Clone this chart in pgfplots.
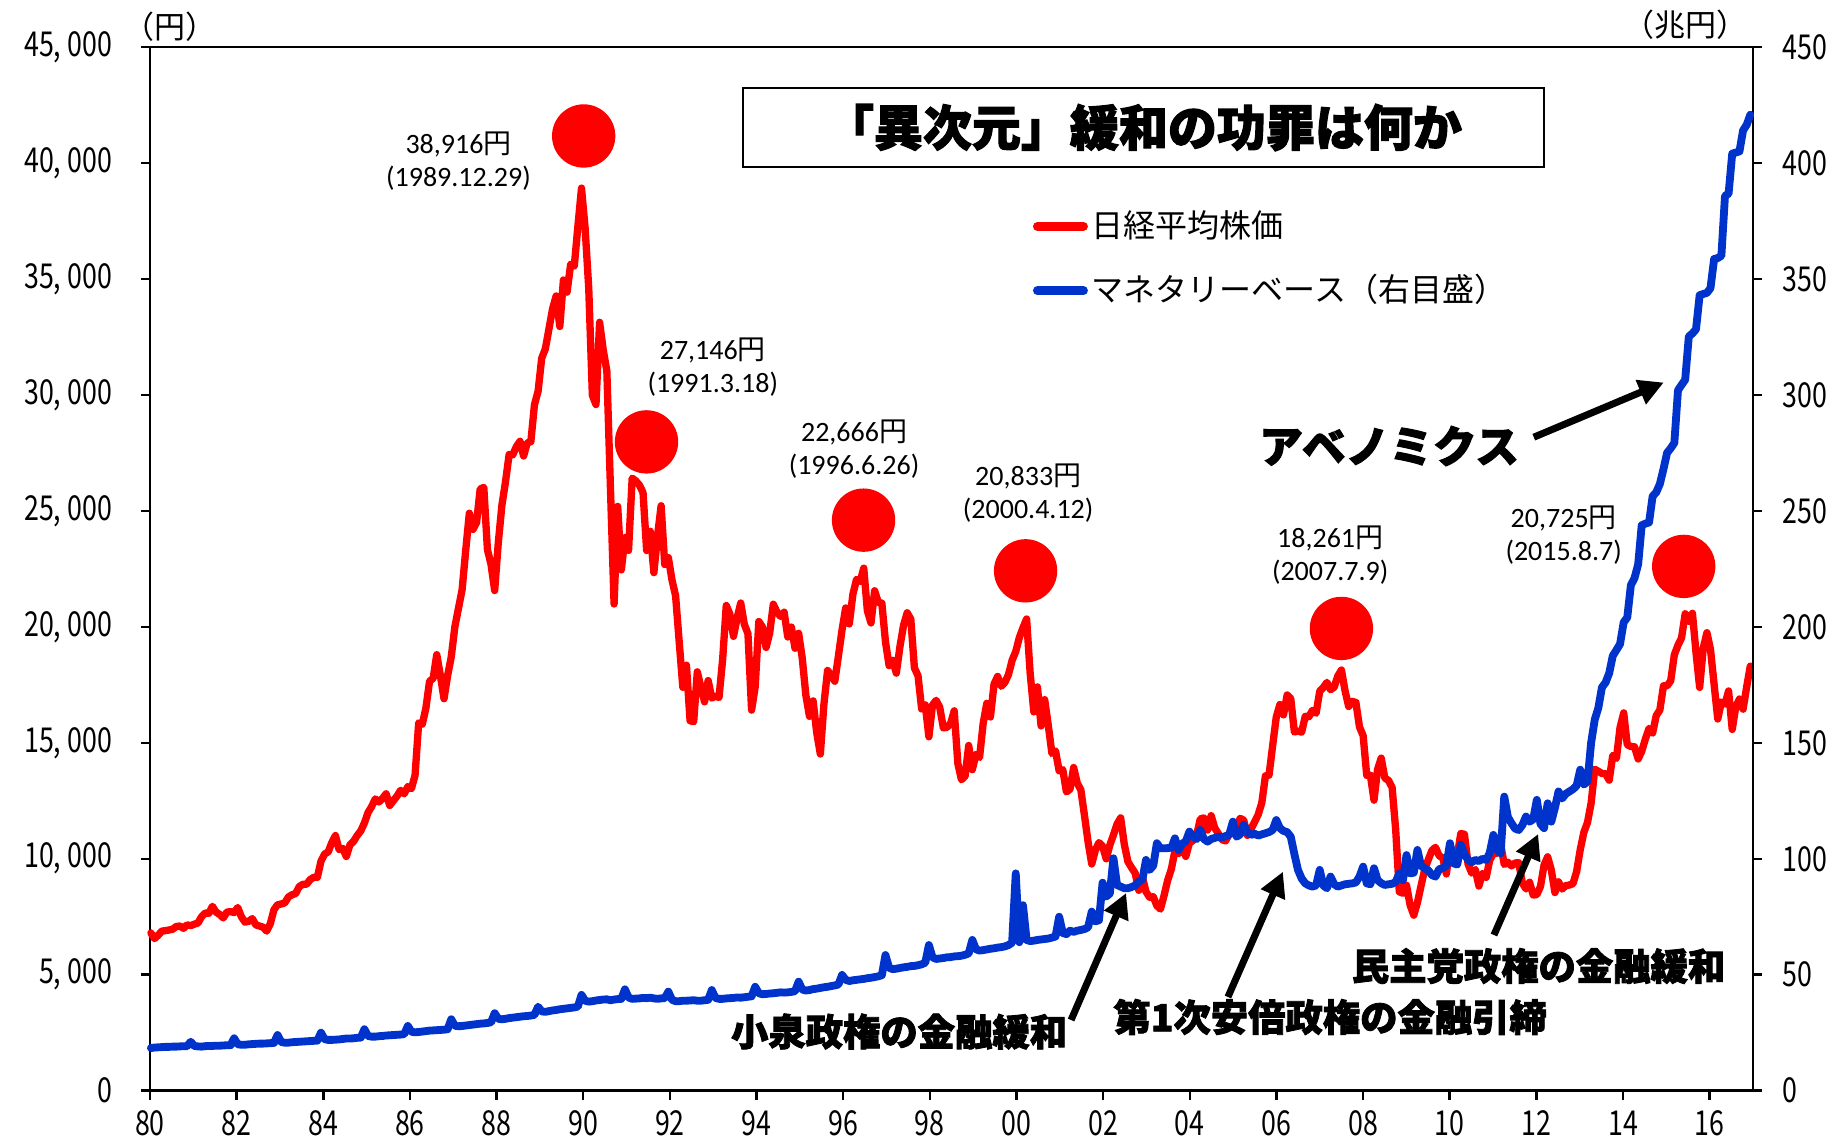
\documentclass[border=0pt]{standalone}
\usepackage{pgfplots}
\pgfplotsset{compat=1.18}
\usepackage{pgfplotstable}
\usetikzlibrary{arrows.meta}
\usepackage{fontspec}
\setmainfont{Carlito}
\newfontfamily\cjk{Noto Sans CJK JP}[BoldFeatures={FakeBold=2.2}]
\newfontfamily\tickfont{Noto Sans CJK JP}[FakeStretch=0.78]
\newfontfamily\calib{Carlito}
\definecolor{nred}{RGB}{255,0,0}
\definecolor{mblue}{RGB}{0,51,204}

% Nikkei 225, month-end, Jan 1980 - Nov 2016 (yen)
\pgfplotstableread[row sep=\\]{
v\\
6800\\6560\\6700\\6880\\6900\\6930\\6960\\7080\\7100\\7000\\7150\\7116\\
7180\\7230\\7500\\7660\\7650\\7950\\7700\\7600\\7450\\7700\\7720\\7682\\
7900\\7500\\7270\\7300\\7420\\7150\\7100\\7050\\6880\\7200\\7800\\8017\\
8050\\8100\\8350\\8450\\8500\\8800\\8900\\8900\\9100\\9200\\9200\\9894\\
10200\\10300\\10700\\11000\\10400\\10450\\10100\\10600\\10750\\11000\\11200\\11543\\
11990\\12250\\12580\\12450\\12600\\12800\\12300\\12500\\12700\\12950\\12800\\13113\\
13024\\13600\\15860\\15800\\16500\\17650\\17780\\18800\\17900\\16900\\17900\\18701\\
20000\\20800\\21600\\23300\\24900\\24200\\24500\\25943\\26010\\23329\\22687\\21564\\
23622\\25242\\26260\\27434\\27417\\27769\\28000\\27366\\27924\\27986\\29579\\30159\\
31581\\31986\\32839\\33713\\34267\\32949\\34954\\34431\\35637\\35549\\37269\\38916\\
37189\\34592\\29980\\29585\\33131\\31940\\31036\\25978\\20984\\25194\\22455\\23849\\
23293\\26409\\26292\\26111\\25790\\23291\\24121\\22336\\23916\\25222\\22688\\22984\\
22023\\21339\\19346\\17391\\18348\\15952\\15910\\18061\\17399\\16767\\17684\\16925\\
17024\\16953\\18591\\20919\\20552\\19590\\20380\\21027\\20106\\19703\\16408\\17417\\
20229\\19997\\19112\\19725\\20974\\20643\\20449\\20629\\19564\\19990\\19076\\19723\\
18650\\17053\\16140\\16807\\15437\\14517\\16678\\18117\\17913\\17655\\18744\\19868\\
20813\\20125\\21407\\22041\\21956\\22531\\20693\\20167\\21556\\21062\\21020\\19361\\
18330\\18557\\18003\\19151\\20069\\20605\\20331\\18229\\17888\\16459\\16636\\15259\\
16628\\16832\\16527\\15641\\15671\\15830\\16379\\14108\\13406\\13564\\14884\\13842\\
14499\\14368\\15837\\16702\\16112\\17530\\17862\\17437\\17605\\17942\\18558\\18934\\
19540\\19960\\20337\\17974\\16332\\17411\\15727\\16861\\15747\\14540\\14649\\13786\\
13844\\12884\\12999\\13934\\13262\\12969\\11861\\10714\\9775\\10367\\10697\\10543\\
9998\\10588\\11025\\11493\\11764\\10622\\9878\\9619\\9383\\8640\\9216\\8579\\
8340\\8363\\7973\\7831\\8425\\9083\\9563\\10344\\10219\\10560\\10101\\10677\\
10784\\11042\\11715\\11762\\11237\\11859\\11326\\11082\\10824\\10771\\11069\\11489\\
11388\\11741\\11668\\11009\\11277\\11584\\11900\\12414\\13574\\13607\\14872\\16111\\
16650\\16205\\17060\\16907\\15467\\15506\\15457\\16141\\16128\\16399\\16274\\17226\\
17383\\17604\\17288\\17400\\17876\\18138\\17249\\16569\\16786\\16738\\15681\\15308\\
13592\\13603\\12526\\13850\\14339\\13481\\13377\\13073\\11260\\8577\\8512\\8860\\
7994\\7568\\8110\\8828\\9523\\9958\\10357\\10493\\10133\\10035\\9346\\10546\\
10198\\10126\\11090\\11057\\9769\\9383\\9537\\8824\\9369\\9202\\9937\\10229\\
10238\\10624\\9755\\9850\\9694\\9816\\9833\\8955\\8700\\8988\\8435\\8455\\
8803\\9723\\10084\\9521\\8543\\9007\\8695\\8840\\8870\\8928\\9446\\10395\\
11139\\11559\\12398\\13861\\13775\\13677\\13668\\13389\\14456\\14328\\15662\\16291\\
14915\\14841\\14828\\14304\\14632\\15162\\15621\\15425\\16174\\16414\\17460\\17451\\
17674\\18798\\19207\\19520\\20563\\20236\\20585\\18890\\17388\\19083\\19747\\19034\\
17518\\16027\\16759\\16666\\17235\\15576\\16569\\16887\\16450\\17425\\18308\\
}\nikkei

% Monetary base, monthly, Jan 1980 - Nov 2016 (trillion yen)
\pgfplotstableread[row sep=\\]{
v\\
18.4\\18.6\\18.7\\18.8\\18.9\\18.9\\19.0\\19.0\\19.1\\19.2\\19.2\\21.1\\
19.3\\19.1\\19.0\\19.2\\19.3\\19.3\\19.4\\19.4\\19.5\\19.6\\19.6\\22.6\\
20.0\\19.8\\19.8\\20.0\\20.1\\20.2\\20.3\\20.3\\20.4\\20.5\\20.6\\24.0\\
21.0\\20.7\\20.7\\20.9\\21.0\\21.1\\21.2\\21.3\\21.4\\21.5\\21.6\\25.0\\
22.2\\21.9\\21.9\\22.0\\22.1\\22.3\\22.5\\22.5\\22.6\\22.8\\22.9\\26.5\\
23.6\\23.3\\23.3\\23.5\\23.6\\23.8\\23.9\\24.0\\24.1\\24.2\\24.4\\27.9\\
25.4\\25.2\\25.3\\25.5\\25.7\\25.9\\26.0\\26.1\\26.2\\26.3\\26.5\\30.8\\
28.0\\27.8\\27.9\\28.1\\28.3\\28.5\\28.7\\28.9\\29.0\\29.2\\29.5\\33.4\\
31.0\\30.8\\31.0\\31.3\\31.5\\31.7\\31.9\\32.1\\32.2\\32.4\\32.7\\36.2\\
34.2\\34.0\\34.3\\34.6\\34.8\\35.1\\35.3\\35.5\\35.7\\35.9\\36.3\\41.3\\
38.8\\38.4\\38.6\\38.9\\39.1\\39.3\\39.4\\39.0\\39.3\\39.5\\39.6\\43.7\\
40.2\\39.6\\39.7\\39.8\\40.0\\39.9\\40.1\\39.8\\39.6\\39.8\\39.9\\42.7\\
39.2\\38.6\\38.6\\38.8\\38.8\\38.9\\39.0\\38.8\\38.8\\39.0\\39.2\\43.4\\
40.0\\39.6\\39.6\\39.8\\39.9\\40.0\\40.2\\40.1\\40.3\\40.5\\40.7\\44.8\\
42.0\\41.6\\41.7\\41.9\\42.0\\42.2\\42.4\\42.3\\42.4\\42.6\\42.9\\47.0\\
43.6\\43.2\\43.4\\43.8\\44.0\\44.3\\44.6\\44.8\\45.1\\45.4\\45.8\\49.9\\
47.8\\47.3\\47.6\\47.8\\48.0\\48.2\\48.5\\48.7\\49.0\\49.3\\49.8\\58.5\\
53.0\\52.4\\52.6\\52.9\\53.2\\53.4\\53.7\\53.8\\54.1\\54.5\\55.2\\62.8\\
57.5\\56.8\\57.0\\57.2\\57.5\\57.6\\57.9\\58.0\\58.2\\58.6\\59.2\\65.0\\
61.0\\60.4\\60.6\\60.9\\61.2\\61.4\\61.7\\61.9\\62.2\\62.8\\63.8\\93.7\\
64.0\\80.0\\65.0\\64.5\\64.7\\65.0\\65.2\\65.4\\65.6\\66.0\\66.5\\75.0\\
68.0\\67.5\\69.0\\68.5\\69.0\\69.3\\69.7\\70.5\\77.2\\73.0\\73.5\\89.7\\
83.7\\85.0\\100.2\\88.7\\88.0\\87.3\\87.3\\87.8\\88.5\\90.1\\91.0\\99.5\\
95.2\\97.0\\106.7\\104.5\\104.5\\104.6\\104.8\\108.8\\103.8\\106.5\\107.5\\111.7\\
109.5\\108.5\\112.4\\108.5\\107.4\\108.5\\109.0\\109.5\\109.2\\109.8\\110.3\\116.0\\
109.5\\110.5\\114.6\\111.5\\110.3\\110.8\\110.0\\110.5\\111.0\\111.5\\112.4\\116.7\\
113.2\\112.0\\111.5\\109.5\\102.0\\95.2\\91.5\\89.4\\88.5\\88.0\\88.5\\95.2\\
88.5\\87.3\\92.3\\89.0\\88.0\\88.5\\89.0\\89.2\\89.4\\89.8\\92.3\\96.6\\
89.4\\89.0\\95.9\\90.8\\89.5\\88.7\\89.0\\89.2\\90.0\\93.7\\90.8\\101.6\\
93.7\\94.0\\103.8\\97.0\\95.9\\95.0\\93.0\\92.3\\95.5\\96.0\\97.0\\106.7\\
98.0\\97.5\\106.0\\102.0\\99.5\\98.5\\99.5\\99.0\\100.0\\99.5\\102.5\\110.3\\
104.0\\102.4\\126.8\\118.0\\115.3\\113.0\\112.4\\114.5\\118.2\\116.0\\117.0\\125.4\\
115.0\\113.2\\123.9\\116.0\\122.0\\129.0\\126.0\\128.0\\129.0\\130.0\\131.5\\138.4\\
132.0\\133.2\\150.0\\160.0\\165.0\\173.9\\176.0\\180.0\\187.5\\190.0\\192.6\\202.0\\
204.0\\218.0\\221.0\\227.0\\243.8\\244.5\\245.0\\256.3\\258.0\\261.6\\268.0\\275.0\\
277.0\\279.3\\302.0\\304.3\\306.5\\325.2\\326.5\\328.3\\343.0\\343.5\\344.0\\346.0\\
358.6\\359.0\\360.0\\385.8\\386.8\\404.0\\404.5\\405.0\\414.0\\416.5\\420.8\\
}\mbase

\pgfplotsset{
  common/.style={
    scale only axis, width=480.9pt, height=313.11pt,
    at={(0pt,0pt)}, anchor=south west,
    xmin=1980, xmax=2017, clip=false,
    tick align=outside, major tick length=2.7pt,
    axis line style={line width=0.75pt, black},
    every tick/.style={line width=0.75pt, black},
    /pgf/number format/assume math mode=true,
  },
}

\begin{document}
\begin{tikzpicture}
\useasboundingbox (-45pt,-14.79pt) rectangle (503.1pt,327.21pt);

% ---------- left axis: Nikkei ----------
\begin{axis}[common,
  ymin=0, ymax=45000,
  xtick={1980,1982,...,2016},
  xticklabels={80,82,84,86,88,90,92,94,96,98,00,02,04,06,08,10,12,14,16},
  ytick={0,5000,...,45000},
  yticklabels={0,{5, 000},{10, 000},{15, 000},{20, 000},{25, 000},{30, 000},{35, 000},{40, 000},{45, 000}},
  scaled y ticks=false,
  xtick pos=bottom, ytick pos=left,
  xticklabel style={font=\tickfont\fontsize{10.3}{10}\selectfont, inner sep=0pt, anchor=north, yshift=-3.2pt},
  yticklabel style={font=\tickfont\fontsize{10.3}{10}\selectfont, inner sep=0pt, anchor=east, xshift=-8.5pt},
]
\addplot[nred, line width=2.2pt, line join=round, line cap=round]
  table[x expr={1980+(\coordindex+0.25)*37/443}, y=v] {\nikkei};
\addplot[only marks, mark=*, mark size=9.3pt, color=nred]
  coordinates {(1990.01,41164) (1991.46,27974) (1996.47,24600) (2000.21,22414) (2007.50,19931) (2015.40,22606)};
\end{axis}

% ---------- right axis: monetary base ----------
\begin{axis}[common,
  ymin=0, ymax=450,
  axis x line=none, axis y line*=right,
  ytick={0,50,...,450},
  yticklabel style={font=\tickfont\fontsize{10.3}{10}\selectfont, inner sep=0pt, anchor=west, xshift=6pt},
  legend style={at={(0.5508,0.7974)}, anchor=west, draw=none, fill=none,
    inner sep=0pt, outer sep=0pt, row sep=7.4pt,
    font=\cjk\fontsize{9.6}{10}\selectfont,
    nodes={inner sep=1.2pt, text height=8pt, text depth=1.5pt}},
  legend cell align=left,
  legend image code/.code={\draw[#1, line width=2.7pt, line cap=round] (1.35pt,0pt) -- (15.15pt,0pt);},
]
\addlegendimage{nred}
\addlegendentry{日経平均株価}
\addplot[mblue, line width=2.35pt, line join=round, line cap=round]
  table[x expr={1980+(\coordindex+0.25)*37/443}, y=v] {\mbase};
\addlegendentry{マネタリーベース（右目盛）}

% units
\node[font=\cjk\fontsize{9.3}{9}\selectfont] at (rel axis cs:0.0125,1.0192) {（円）};
\node[font=\cjk\fontsize{9.3}{9}\selectfont] at (rel axis cs:0.9576,1.0211) {（兆円）};

% title box
\node[draw=black, line width=0.6pt, fill=white, minimum width=240.3pt, minimum height=23.7pt, inner sep=0pt,
  font=\cjk\bfseries\fontsize{14.7}{16}\selectfont] at (axis cs:2002.93,415.29) {「異次元」緩和の功罪は何か};

% peak annotations
\begin{scope}[every node/.style={align=center, font=\calib\fontsize{8.4}{9.9}\selectfont}]
\node at (axis cs:1987.12,400.63) {38,916{\cjk 円}\\(1989.12.29)};
\node at (axis cs:1992.99,311.90) {27,146{\cjk 円}\\(1991.3.18)};
\node at (axis cs:1996.25,276.67) {22,666{\cjk 円}\\(1996.6.26)};
\node at (axis cs:2000.27,257.57) {20,833{\cjk 円}\\(2000.4.12)};
\node at (axis cs:2007.24,230.97) {18,261{\cjk 円}\\(2007.7.9)};
\node at (axis cs:2012.63,239.42) {20,725{\cjk 円}\\(2015.8.7)};
\end{scope}

% bold labels
\node[font=\cjk\bfseries\fontsize{11.2}{13}\selectfont] at (axis cs:1997.29,25.52) {小泉政権の金融緩和};
\node[font=\cjk\bfseries\fontsize{11.2}{13}\selectfont] at (axis cs:2007.24,31.78) {第1次安倍政権の金融引締};
\node[font=\cjk\bfseries\fontsize{11.2}{13}\selectfont] at (axis cs:2012.05,53.76) {民主党政権の金融緩和};
\node[font=\cjk\bfseries\fontsize{13.1}{15}\selectfont] at (axis cs:2008.60,277.96) {アベノミクス};

% arrows
\begin{scope}[line width=2.1pt, -{Triangle[length=7.5pt,width=7.5pt]}]
\draw (axis cs:2001.26,30.48) -- (axis cs:2002.53,85.24);
\draw (axis cs:2004.88,40.40) -- (axis cs:2006.15,94.42);
\draw (axis cs:2011.02,67.13) -- (axis cs:2012.04,110.68);
\draw (axis cs:2011.94,281.76) -- (axis cs:2014.94,305.34);
\end{scope}
\end{axis}
\end{tikzpicture}
\end{document}
